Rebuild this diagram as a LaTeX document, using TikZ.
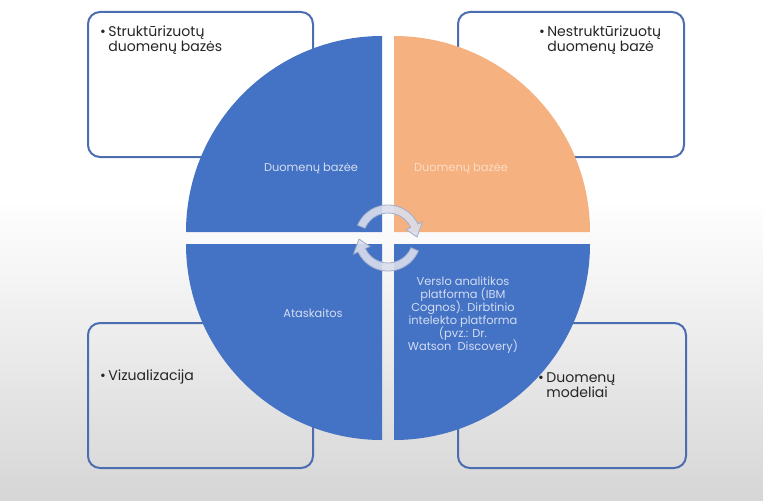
\documentclass[tikz,border=0pt]{standalone}
\usepackage{fontspec}
\setmainfont{Poppins}
\newlength{\du}
\setlength{\du}{0.02cm}
\newcommand{\tightlines}{\lineskiplimit=-100pt\relax\lineskip=0pt\relax}
\definecolor{quadblue}{HTML}{4472C4}
\definecolor{quadorange}{HTML}{F5B17F}
\definecolor{boxline}{HTML}{4C6DB0}
\definecolor{boxtextcolor}{HTML}{262626}
\definecolor{bluetext}{HTML}{D2DDF2}
\definecolor{orangetext}{HTML}{FCDCC4}
\definecolor{arrowfill}{HTML}{DADEEC}
\definecolor{arrowline}{HTML}{A3ADC9}
\definecolor{bggrey}{HTML}{D6D6D6}
\tikzset{
  infobox/.style={draw=boxline, line width=2\du, rounded corners=12\du},
  boxtext/.style={anchor=north west, align=left, inner sep=0pt, text=boxtextcolor,
    font=\fontsize{8}{9}\selectfont},
  quadtext/.style={align=center, inner sep=0pt,
    font=\fontsize{6.5}{7.4}\selectfont\tightlines},
  cyclearrow/.style={fill=arrowfill, fill opacity=0.9, draw=arrowline, line width=0.8\du}
}

\begin{document}
\begin{tikzpicture}
\pgftransformxscale{1.000000}
\pgftransformyscale{-1.000000}
\useasboundingbox (0\du,0\du) rectangle (763\du,500\du);
% background
\fill[white] (0\du,0\du) rectangle (763\du,500\du);
\shade[top color=white, bottom color=bggrey] (0\du,200\du) rectangle (763\du,500\du);
% outer boxes
\draw[infobox] (88\du,12\du) rectangle (313\du,157\du);
\draw[infobox] (458\du,12\du) rectangle (684\du,157\du);
\draw[infobox] (88\du,323\du) rectangle (313\du,468\du);
\draw[infobox] (458\du,323\du) rectangle (686\du,468\du);
% quarters of the circle
\fill[quadblue] (382\du,232\du)--(186\du,232\du) arc[start angle=180, end angle=270, radius=196\du]--cycle;
\fill[quadorange] (394\du,232\du)--(394\du,36\du) arc[start angle=270, end angle=360, radius=196\du]--cycle;
\fill[quadblue] (394\du,244\du)--(590\du,244\du) arc[start angle=0, end angle=90, radius=196\du]--cycle;
\fill[quadblue] (382\du,244\du)--(382\du,440\du) arc[start angle=90, end angle=180, radius=196\du]--cycle;
% labels in the quarters
\node[quadtext, text=bluetext] (qTL) at (311\du,168\du){Duomenų bazėe};
\node[quadtext, text=orangetext] (qTR) at (461\du,168\du){Duomenų bazėe};
\node[quadtext, text=bluetext] (qBL) at (313\du,313\du){Ataskaitos};
\node[quadtext, text=bluetext] (qBR) at (463\du,315\du){Verslo analitikos\\platforma (IBM\\Cognos). Dirbtinio\\intelekto platforma\\(pvz.: Dr.\\Watson\ \ Discovery)};
% texts in the boxes
\node[boxtext] (tTL) at (108\du,25\du){\llap{•\,}Struktūrizuotų\\duomenų bazės};
\node[boxtext] (tTR) at (547\du,25\du){\llap{•\,}Nestruktūrizuotų\\duomenų bazė};
\node[boxtext] (tBL) at (108\du,369\du){\llap{•\,}Vizualizacija};
\node[boxtext] (tBR) at (546\du,372\du){\llap{•\,}Duomenų\\modeliai};
% cycle arrows
\begin{scope}[shift={(388\du,238\du)}]
\draw[cyclearrow] (-157:33\du) arc[start angle=-157, end angle=-25, radius=33\du]--(-25:38\du)--(-2:29\du)--(-25:20\du)--(-25:25\du) arc[start angle=-25, end angle=-157, radius=25\du]--cycle;
\draw[cyclearrow] (23:33\du) arc[start angle=23, end angle=155, radius=33\du]--(155:38\du)--(178:29\du)--(155:20\du)--(155:25\du) arc[start angle=155, end angle=23, radius=25\du]--cycle;
\end{scope}
\end{tikzpicture}
\end{document}
